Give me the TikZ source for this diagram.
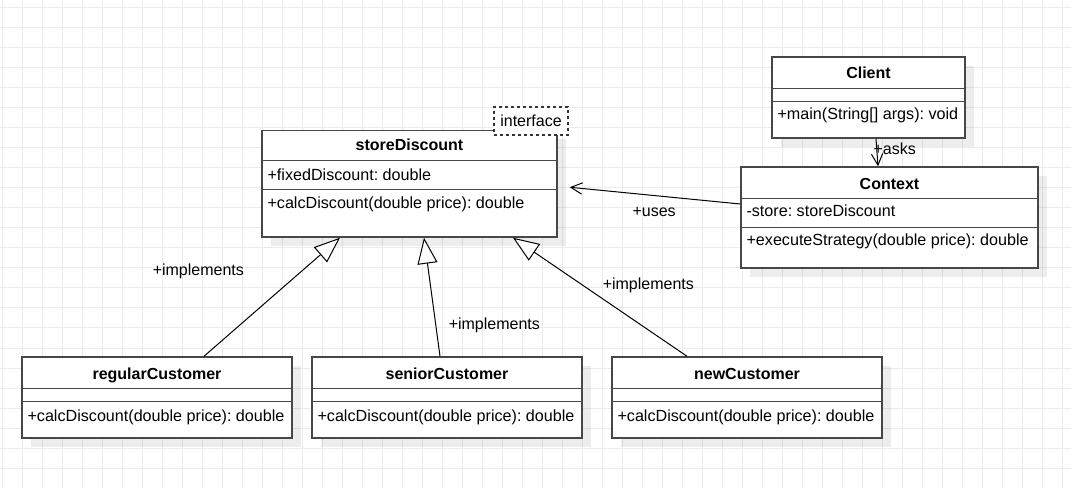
\documentclass[tikz,border=0pt]{standalone}
\usepackage{fontspec}
\setmainfont{Liberation Sans}
\usetikzlibrary{arrows.meta,calc,shadows}
\frenchspacing
\begin{document}
\begin{tikzpicture}
[x=0.75pt,y=-0.75pt,
  gridDecorate/.style={draw=black!8,line width=0.75pt},
  classDecorate/.style={shape=rectangle,draw=black!72,line width=1.1pt,fill=white,inner sep=0pt,
    drop shadow={shadow xshift=6.75pt,shadow yshift=-6.75pt,opacity=0.07,fill=black}},
  sepDecorate/.style={draw=black!72,line width=1.1pt},
  titleDecorate/.style={font=\fontsize{12pt}{14pt}\selectfont\bfseries,inner sep=0pt,anchor=base},
  textDecorate/.style={font=\fontsize{12.1pt}{14pt}\selectfont,inner sep=0pt,anchor=base west},
  interfaceDecorate/.style={shape=rectangle,draw=black!80,line width=0.9pt,fill=white,
    dash pattern=on 2.25pt off 2.25pt,inner sep=0pt,font=\fontsize{12pt}{14pt}\selectfont},
  implementsDecorate/.style={-{Triangle[open,length=19.5pt,width=15pt,fill=white]},line width=0.75pt},
  usesDecorate/.style={-{Straight Barb[length=8.5pt,width=8.5pt]},line width=0.75pt},
  labelDecorate/.style={font=\fontsize{12pt}{14pt}\selectfont,inner sep=0pt,anchor=base west}]
\fill[white] (0,0) rectangle (1071,488);
\useasboundingbox (0,0) rectangle (1071,488);
%% grid
\foreach \gx in {2,22,...,1062}
{
  \draw[gridDecorate] (\gx,0) -- (\gx,488);
}
\foreach \gy in {8,28,...,488}
{
  \draw[gridDecorate] (0,\gy) -- (1071,\gy);
}
%% interface class
\node[classDecorate,minimum width=221.25pt,minimum height=79.875pt] (store) at (409.5,183.75) {};
\node[titleDecorate] (store-title) at ($(store.north)+(0,21)$) {storeDiscount};
\draw[sepDecorate] ($(store.north west)+(0,31)$) -- ($(store.north east)+(0,31)$);
\node[textDecorate] (store-attr) at ($(store.north west)+(6,50.5)$) {+fixedDiscount: double};
\draw[sepDecorate] ($(store.north west)+(0,59.5)$) -- ($(store.north east)+(0,59.5)$);
\node[textDecorate] (store-method) at ($(store.north west)+(6,78.5)$) {+calcDiscount(double price): double};
\node[interfaceDecorate,minimum width=55.5pt,minimum height=21pt] (iface) at (531,121) {interface};
%% client and context
\node[classDecorate,minimum width=144.75pt,minimum height=60.75pt] (client) at (868.5,97.5) {};
\node[titleDecorate] (client-title) at ($(client.north)+(0,22.5)$) {Client};
\draw[sepDecorate] ($(client.north west)+(0,32)$) -- ($(client.north east)+(0,32)$);
\draw[sepDecorate] ($(client.north west)+(0,45)$) -- ($(client.north east)+(0,45)$);
\node[textDecorate] (client-method) at ($(client.north west)+(6,63.5)$) {+main(String[] args): void};
\node[classDecorate,minimum width=222.75pt,minimum height=75.75pt] (ctx) at (889.5,217.5) {};
\node[titleDecorate] (ctx-title) at ($(ctx.north)+(0,23)$) {Context};
\draw[sepDecorate] ($(ctx.north west)+(0,32)$) -- ($(ctx.north east)+(0,32)$);
\node[textDecorate] (ctx-attr) at ($(ctx.north west)+(6,50.7)$) {-store: storeDiscount};
\draw[sepDecorate] ($(ctx.north west)+(0,61)$) -- ($(ctx.north east)+(0,61)$);
\node[textDecorate] (ctx-method) at ($(ctx.north west)+(6,79.5)$) {+executeStrategy(double price): double};
%% concrete strategies
\foreach \nodename/\x/\title in {
  reg/157/regularCustomer, sen/447/seniorCustomer, new/747/newCustomer}
{
  \node[classDecorate,minimum width=202.5pt,minimum height=60.75pt] (\nodename) at (\x,397.5) {};
  \node[titleDecorate] (\nodename-title) at ($(\nodename.north)+(0,23.5)$) {\title};
  \draw[sepDecorate] ($(\nodename.north west)+(0,32)$) -- ($(\nodename.north east)+(0,32)$);
  \draw[sepDecorate] ($(\nodename.north west)+(0,45)$) -- ($(\nodename.north east)+(0,45)$);
  \node[textDecorate] (\nodename-method) at ($(\nodename.north west)+(6,65)$) {+calcDiscount(double price): double};
}
%% edges
\foreach \startnode/\startshift/\endshift in {reg/47/-69.5, sen/-7/14.5, new/-60/103.5}
{
  \draw[implementsDecorate] ($(\startnode.north)+(\startshift,0)$) -- ($(store.south)+(\endshift,0)$);
}
\draw[usesDecorate] ($(ctx.west)+(0,-13.5)$) -- ($(store.east)+(12,3.5)$);
\draw[usesDecorate] ($(client.south)+(7.5,0)$) -- ($(ctx.north)+(-11.5,0)$);
%% edge labels
\node[labelDecorate] (impl-reg) at (152.5,275.8) {+implements};
\node[labelDecorate] (impl-sen) at (448.5,329.8) {+implements};
\node[labelDecorate] (impl-new) at (602.5,289.3) {+implements};
\node[labelDecorate] (uses) at (632.3,216.5) {+uses};
\node[labelDecorate] (asks) at (873.3,154.5) {+asks};
\end{tikzpicture}
\end{document}
